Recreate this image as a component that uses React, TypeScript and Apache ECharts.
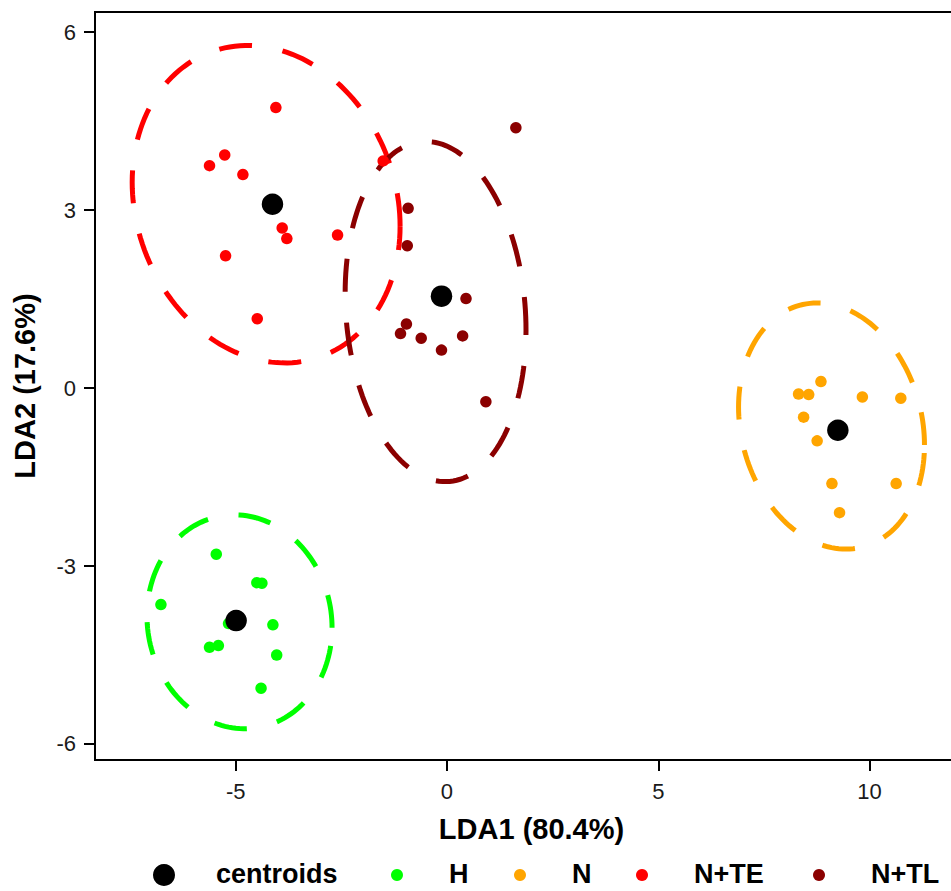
import React, { useEffect, useRef } from "react";
import * as echarts from "echarts";

// ---- data ----
const hX = [-5.46, -4.5, -4.38, -6.77, -5.17, -4.12, -5.62, -5.41, -4.03, -4.4];
const hY = [-2.8, -3.28, -3.29, -3.65, -3.97, -3.99, -4.37, -4.34, -4.5, -5.06];
const nX = [8.85, 8.32, 8.56, 9.83, 10.74, 8.44, 8.76, 9.11, 10.63, 9.29];
const nY = [0.11, -0.1, -0.11, -0.15, -0.17, -0.49, -0.89, -1.61, -1.61, -2.1];
const nteX = [-4.05, -5.62, -5.26, -4.83, -3.9, -3.79, -2.59, -5.24, -4.49, -1.51];
const nteY = [4.73, 3.75, 3.93, 3.6, 2.7, 2.52, 2.58, 2.23, 1.17, 3.83];
const ntlX = [-0.92, -0.94, 0.45, -0.96, -1.1, -0.61, -0.13, 0.37, 0.92, 1.63];
const ntlY = [3.03, 2.4, 1.51, 1.08, 0.92, 0.84, 0.64, 0.88, -0.23, 4.39];

const groupNames = ["H", "N", "N+TE", "N+TL"];
const groupColors = ["#00FF00", "#FFA500", "#FF0000", "#8B0000"];

const centroidX = [-4.99, 9.25, -4.13, -0.13];
const centroidY = [-3.92, -0.71, 3.1, 1.55];

// ellipse parameters: centre, half-width (rightmost offset), y-offset of rightmost point, vertical half-chord
const ellCX = [-4.91, 9.1, -4.28, -0.27];
const ellCY = [-3.94, -0.64, 3.1, 1.29];
const ellW = [2.19, 2.2, 3.17, 2.14];
const ellT = [-0.1, -0.32, -0.37, -0.31];
const ellV = [1.8, 2.05, 2.65, 2.85];

const xTicks = [-5, 0, 5, 10];
const yTicks = [-6, -3, 0, 3, 6];
const xTitle = "LDA1 (80.4%)";
const yTitle = "LDA2 (17.6%)";
const legendLabels = ["centroids", "H", "N", "N+TE", "N+TL"];
const legendColors = ["#000000", ...groupColors];

const FONT = '"Liberation Sans", Arial, Helvetica, sans-serif';

function zip(xs: number[], ys: number[]) {
  return xs.map((x, i) => [x, ys[i]]);
}

export default function App() {
  const ref = useRef<HTMLDivElement>(null);

  useEffect(() => {
    if (!ref.current) return;
    const chart = echarts.init(ref.current, undefined, { renderer: "svg" });

    const groupXs = [hX, nX, nteX, ntlX];
    const groupYs = [hY, nY, nteY, ntlY];

    const pointSeries = groupNames.map((name, i) => ({
      type: "scatter",
      name,
      data: zip(groupXs[i], groupYs[i]),
      symbol: "circle",
      symbolSize: 11.5,
      itemStyle: { color: groupColors[i], opacity: 1 },
      silent: true,
    }));

    const ellipseSeries = groupNames.map((name, i) => ({
      type: "custom",
      name: name + " ellipse",
      silent: true,
      data: [[ellCX[i], ellCY[i], ellW[i], ellT[i], ellV[i]]],
      renderItem: (params: any, api: any) => {
        const cx = api.value(0);
        const cy = api.value(1);
        const w = api.value(2);
        const t = api.value(3);
        const v = api.value(4);
        const pts: number[][] = [];
        const n = 160;
        for (let k = 0; k <= n; k++) {
          const a = (2 * Math.PI * k) / n;
          pts.push(api.coord([cx + w * Math.cos(a), cy + t * Math.cos(a) + v * Math.sin(a)]));
        }
        return {
          type: "polyline",
          shape: { points: pts },
          style: {
            stroke: groupColors[i],
            lineWidth: 5,
            lineDash: [33, 31],
            fill: null,
          },
        };
      },
    }));

    const centroidSeries = {
      type: "scatter",
      name: "centroids",
      data: zip(centroidX, centroidY),
      symbol: "circle",
      symbolSize: 21.5,
      itemStyle: { color: "#000000", opacity: 1 },
      silent: true,
    };

    // legend drawn as graphic elements
    const legendDotX = [164, 397, 520, 642, 819];
    const legendDotR = [11, 6, 6, 6, 6];
    const legendY = 875;
    const legendGraphics: any[] = [];
    legendLabels.forEach((label, i) => {
      legendGraphics.push({
        type: "circle",
        shape: { cx: legendDotX[i], cy: legendY, r: legendDotR[i] },
        style: { fill: legendColors[i] },
        silent: true,
      });
      legendGraphics.push({
        type: "text",
        x: legendDotX[i] + 52,
        y: 874,
        style: {
          text: label,
          font: `bold 27px ${FONT}`,
          fill: "#000",
          verticalAlign: "middle",
          align: "left",
        },
        silent: true,
      });
    });

    chart.setOption({
      animation: false,
      backgroundColor: "#ffffff",
      grid: {
        left: 95,
        right: 32,
        top: 12,
        bottom: 131,
        show: true,
        borderColor: "#000",
        borderWidth: 2,
        backgroundColor: "transparent",
      },
      xAxis: {
        type: "value",
        min: -8.33,
        max: 12.33,
        name: xTitle,
        nameLocation: "middle",
        nameGap: 54,
        nameTextStyle: { fontSize: 29, fontWeight: "bold", color: "#000", fontFamily: FONT },
        axisLine: { show: true, onZero: false, lineStyle: { color: "#000", width: 2 } },
        axisTick: { show: true, length: 11, lineStyle: { color: "#000", width: 2 }, customValues: xTicks },
        axisLabel: { customValues: xTicks, fontSize: 22, color: "#1a1a1a", margin: 20, fontFamily: FONT },
        splitLine: { show: false },
      },
      yAxis: {
        type: "value",
        min: -6.27,
        max: 6.34,
        name: yTitle,
        nameLocation: "middle",
        nameGap: 56,
        nameTextStyle: { fontSize: 29, fontWeight: "bold", color: "#000", fontFamily: FONT },
        axisLine: { show: true, onZero: false, lineStyle: { color: "#000", width: 2 } },
        axisTick: { show: true, length: 11, lineStyle: { color: "#000", width: 2 }, customValues: yTicks },
        axisLabel: { customValues: yTicks, fontSize: 22, color: "#1a1a1a", margin: 19, fontFamily: FONT },
        splitLine: { show: false },
      },
      graphic: legendGraphics,
      series: [...pointSeries, ...ellipseSeries, centroidSeries],
    } as any);

    return () => chart.dispose();
  }, []);

  return (
    <div
      style={{
        position: "fixed",
        left: 0,
        top: 0,
        width: 951,
        height: 891,
        overflow: "hidden",
        background: "#fff",
      }}
    >
      <div ref={ref} style={{ width: 1000, height: 891 }} />
    </div>
  );
}
